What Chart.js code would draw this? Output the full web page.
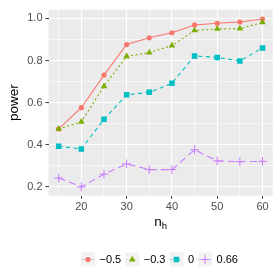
<!DOCTYPE html>
<html>
<head>
<meta charset="utf-8">
<script src="https://cdn.jsdelivr.net/npm/chart.js@4/dist/chart.umd.min.js"></script>
<style>
  html, body { margin: 0; padding: 0; background: #fff; }
  #wrap { width: 280px; height: 280px; }
</style>
</head>
<body>
<div id="wrap"><canvas id="powerChart" width="280" height="280"></canvas></div>
<script>
// data
const nh = [15, 20, 25, 30, 35, 40, 45, 50, 55, 60];
const powerM05 = [0.475, 0.576, 0.731, 0.876, 0.908, 0.932, 0.969, 0.977, 0.983, 0.997];
const powerM03 = [0.475, 0.509, 0.678, 0.820, 0.838, 0.871, 0.943, 0.950, 0.952, 0.981];
const power0 = [0.393, 0.380, 0.521, 0.637, 0.649, 0.692, 0.822, 0.815, 0.798, 0.860];
const power066 = [0.242, 0.200, 0.260, 0.309, 0.282, 0.282, 0.376, 0.323, 0.320, 0.321];

const seriesLabels = ['\u22120.5', '\u22120.3', '0', '0.66'];
const xTicks = [15, 20, 25, 30, 35, 40, 45, 50, 55, 60];
const yTicks = [0.2, 0.3, 0.4, 0.5, 0.6, 0.7, 0.8, 0.9, 1.0];

const FONT = '"Liberation Sans", Arial, sans-serif';

function toPoints(ys) {
    return nh.map((x, i) => ({ x: x, y: ys[i] }));
}

function isMajorX(v) { return v % 10 === 0; }
function isMajorY(v) { return Math.round(v * 10) % 2 === 0; }

// grey panel behind the plot
const panelBg = {
    id: 'panelBg',
    beforeDraw(chart) {
        const { ctx, chartArea: a } = chart;
        ctx.save();
        ctx.fillStyle = '#EBEBEB';
        ctx.fillRect(a.left, a.top, a.right - a.left, a.bottom - a.top);
        ctx.restore();
    }
};

// x title with subscript and a ggplot-like legend
const extras = {
    id: 'extras',
    afterDraw(chart) {
        const { ctx, chartArea: a } = chart;
        ctx.save();
        // n_h
        ctx.fillStyle = '#000';
        ctx.textBaseline = 'alphabetic';
        ctx.font = '13.5px ' + FONT;
        const nW = ctx.measureText('n').width;
        ctx.font = '9.5px ' + FONT;
        const hW = ctx.measureText('h').width;
        const cx = (a.left + a.right) / 2;
        let x0 = cx - (nW + hW) / 2;
        ctx.font = '13.5px ' + FONT;
        ctx.fillText('n', x0, a.bottom + 30);
        ctx.font = '9.5px ' + FONT;
        ctx.fillText('h', x0 + nW, a.bottom + 33);

        // legend
        ctx.font = '11px ' + FONT;
        ctx.textBaseline = 'middle';
        let x = 88;
        const y = 259.5;
        chart.data.datasets.forEach((ds) => {
            ctx.fillStyle = '#F2F2F2';
            ctx.fillRect(x - 7, y - 7, 14, 14);
            ctx.strokeStyle = ds.borderColor;
            ctx.globalAlpha = 0.3;
            ctx.lineWidth = 1;
            ctx.setLineDash(ds.borderDash);
            ctx.beginPath();
            ctx.moveTo(x - 7, y);
            ctx.lineTo(x + 7, y);
            ctx.stroke();
            ctx.globalAlpha = 1;
            ctx.setLineDash([]);
            ctx.fillStyle = ds.backgroundColor;
            ctx.strokeStyle = ds.borderColor;
            ctx.lineWidth = ds.pointBorderWidth;
            Chart.helpers.drawPoint(ctx, {
                pointStyle: ds.pointStyle,
                radius: ds.pointRadius,
                borderWidth: ds.pointBorderWidth,
                rotation: 0
            }, x, y);
            ctx.fillStyle = '#000';
            ctx.textAlign = 'left';
            ctx.fillText(ds.label, x + 11.5, y + 0.5);
            x += 11.5 + ctx.measureText(ds.label).width + 11;
        });
        ctx.restore();
    }
};

const ctx = document.getElementById('powerChart').getContext('2d');
new Chart(ctx, {
    type: 'line',
    data: {
        datasets: [
            {
                label: seriesLabels[0], data: toPoints(powerM05),
                borderColor: '#F8766D', backgroundColor: '#F8766D',
                borderDash: [], pointStyle: 'circle', pointRadius: 2.6,
                pointBorderWidth: 0, order: 4
            },
            {
                label: seriesLabels[1], data: toPoints(powerM03),
                borderColor: '#7CAE00', backgroundColor: '#7CAE00',
                borderDash: [2, 2.5], pointStyle: 'triangle', pointRadius: 3.8,
                pointBorderWidth: 0, order: 3
            },
            {
                label: seriesLabels[2], data: toPoints(power0),
                borderColor: '#00BFC4', backgroundColor: '#00BFC4',
                borderDash: [4, 3.5], pointStyle: 'rect', pointRadius: 3.9,
                pointBorderWidth: 0, order: 2
            },
            {
                label: seriesLabels[3], data: toPoints(power066),
                borderColor: '#C77CFF', backgroundColor: '#C77CFF',
                borderDash: [7, 4], pointStyle: 'cross', pointRadius: 4.4,
                pointBorderWidth: 1, order: 1
            }
        ]
    },
    options: {
        responsive: false,
        animation: false,
        events: [],
        datasets: {
            line: { borderWidth: 1.1, tension: 0, fill: false, pointHoverRadius: 0 }
        },
        layout: { padding: { top: 6, right: 7.3, left: 0, bottom: 0 } },
        plugins: {
            legend: { display: false },
            tooltip: { enabled: false }
        },
        scales: {
            x: {
                type: 'linear',
                min: 12.75,
                max: 62.25,
                afterBuildTicks: (axis) => { axis.ticks = xTicks.map(v => ({ value: v })); },
                afterFit: (axis) => { axis.height = 84.3; },
                border: { display: false },
                grid: {
                    color: '#FFFFFF',
                    lineWidth: (c) => isMajorX(c.tick.value) ? 1.1 : 0.55,
                    tickColor: (c) => isMajorX(c.tick.value) ? '#333333' : 'rgba(0,0,0,0)',
                    tickWidth: 1,
                    tickLength: 3,
                    drawTicks: true
                },
                ticks: {
                    autoSkip: false,
                    maxRotation: 0,
                    padding: 2,
                    color: '#4D4D4D',
                    font: { family: FONT, size: 11 },
                    callback: (v) => isMajorX(v) ? String(v) : ''
                }
            },
            y: {
                type: 'linear',
                min: 0.158,
                max: 1.042,
                afterBuildTicks: (axis) => { axis.ticks = yTicks.map(v => ({ value: v })); },
                afterFit: (axis) => { axis.width = 48.5; },
                border: { display: false },
                title: {
                    display: true,
                    text: 'power',
                    color: '#000',
                    font: { family: FONT, size: 13.5 },
                    padding: { top: 6, bottom: 0 }
                },
                grid: {
                    color: '#FFFFFF',
                    lineWidth: (c) => isMajorY(c.tick.value) ? 1.1 : 0.55,
                    tickColor: (c) => isMajorY(c.tick.value) ? '#333333' : 'rgba(0,0,0,0)',
                    tickWidth: 1,
                    tickLength: 3,
                    drawTicks: true
                },
                ticks: {
                    autoSkip: false,
                    padding: 3,
                    color: '#4D4D4D',
                    font: { family: FONT, size: 11 },
                    callback: (v) => isMajorY(v) ? v.toFixed(1) : ''
                }
            }
        }
    },
    plugins: [panelBg, extras]
});
</script>
</body>
</html>
